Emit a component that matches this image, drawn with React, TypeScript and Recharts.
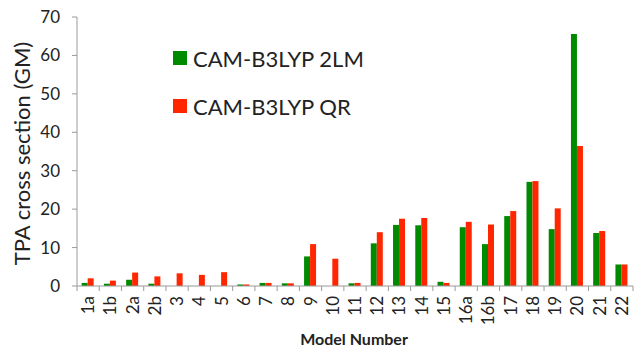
import React from 'react';
import { BarChart, Bar, XAxis, YAxis, Legend } from 'recharts';

const MODELS = ['1a', '1b', '2a', '2b', '3', '4', '5', '6', '7', '8', '9', '10', '11', '12', '13', '14', '15', '16a', '16b', '17', '18', '19', '20', '21', '22'];
const TWO_LM = [0.8, 0.6, 1.6, 0.6, 0, 0, 0, 0.4, 0.8, 0.7, 7.7, 0, 0.7, 11.1, 15.9, 15.8, 1.1, 15.3, 10.9, 18.2, 27.1, 14.8, 65.6, 13.8, 5.6];
const QR = [2.0, 1.4, 3.5, 2.5, 3.3, 2.9, 3.6, 0.4, 0.8, 0.7, 10.9, 7.1, 0.8, 14.0, 17.5, 17.7, 0.8, 16.7, 16.0, 19.5, 27.3, 20.2, 36.4, 14.3, 5.6];
const Y_TICKS = [0, 10, 20, 30, 40, 50, 60, 70];

const data = MODELS.map((model, i) => ({ model, lm: TWO_LM[i], qr: QR[i] }));

const FONT = 'Lato, sans-serif';
const AXIS = '#9a9a9a';
const TEXT = '#222';
const GREEN = '#008a00';
const RED = '#ff2600';

const W = 636;
const H = 347;
const LEFT = 77;
const RIGHT = 3;
const BAND = (W - LEFT - RIGHT) / MODELS.length;

// category ticks sit on the band edges, labels run bottom-to-top under each band
function ModelTick(props: any) {
  const { x, y, payload, index } = props;
  return (
    <g>
      <line x1={x - BAND / 2} x2={x - BAND / 2} y1={y} y2={y + 5} stroke={AXIS} />
      {index === MODELS.length - 1 && (
        <line x1={x + BAND / 2} x2={x + BAND / 2} y1={y} y2={y + 5} stroke={AXIS} />
      )}
      <text
        transform={`translate(${x + 6},${y + 10}) rotate(-90)`}
        textAnchor="end"
        fontSize={17}
        fontFamily={FONT}
        fill={TEXT}
      >
        {payload.value}
      </text>
    </g>
  );
}

function LegendBox() {
  const rows = [
    { name: 'CAM-B3LYP 2LM', color: GREEN },
    { name: 'CAM-B3LYP QR', color: RED },
  ];
  return (
    <div style={{ fontFamily: FONT, fontSize: 22, color: TEXT }}>
      {rows.map((r) => (
        <div key={r.name} style={{ display: 'flex', alignItems: 'center', height: 48 }}>
          <span style={{ width: 14, height: 14, background: r.color, marginRight: 6 }} />
          <span>{r.name}</span>
        </div>
      ))}
    </div>
  );
}

export default function App() {
  return (
    <div style={{ position: 'absolute', left: 0, top: 0 }}>
      <BarChart
        width={W}
        height={H}
        data={data}
        margin={{ top: 17, right: RIGHT, bottom: 0, left: 0 }}
        barCategoryGap="21%"
        barGap={0}
      >
        <YAxis
          width={LEFT}
          domain={[0, 70]}
          ticks={Y_TICKS}
          interval={0}
          stroke={AXIS}
          tickSize={5}
          tickMargin={12}
          tick={{ fontSize: 17, fontFamily: FONT, fill: TEXT }}
          label={{
            value: 'TPA cross section (GM)',
            angle: -90,
            position: 'center',
            dx: -16,
            dy: 2,
            fontSize: 22,
            fontFamily: FONT,
            fill: TEXT,
          }}
        />
        <XAxis
          dataKey="model"
          height={61}
          interval={0}
          stroke={AXIS}
          tickLine={false}
          tickSize={0}
          tickMargin={0}
          tick={<ModelTick />}
          label={{
            value: 'Model Number',
            position: 'insideBottom',
            offset: 2,
            dx: -1,
            fontSize: 16,
            fontWeight: 'bold',
            fontFamily: FONT,
            fill: TEXT,
          }}
        />
        <Legend
          layout="vertical"
          align="center"
          verticalAlign="middle"
          content={<LegendBox />}
          wrapperStyle={{ left: 173, top: 34, width: 'auto' }}
        />
        <Bar dataKey="lm" name="CAM-B3LYP 2LM" fill={GREEN} isAnimationActive={false} />
        <Bar dataKey="qr" name="CAM-B3LYP QR" fill={RED} isAnimationActive={false} />
      </BarChart>
    </div>
  );
}
